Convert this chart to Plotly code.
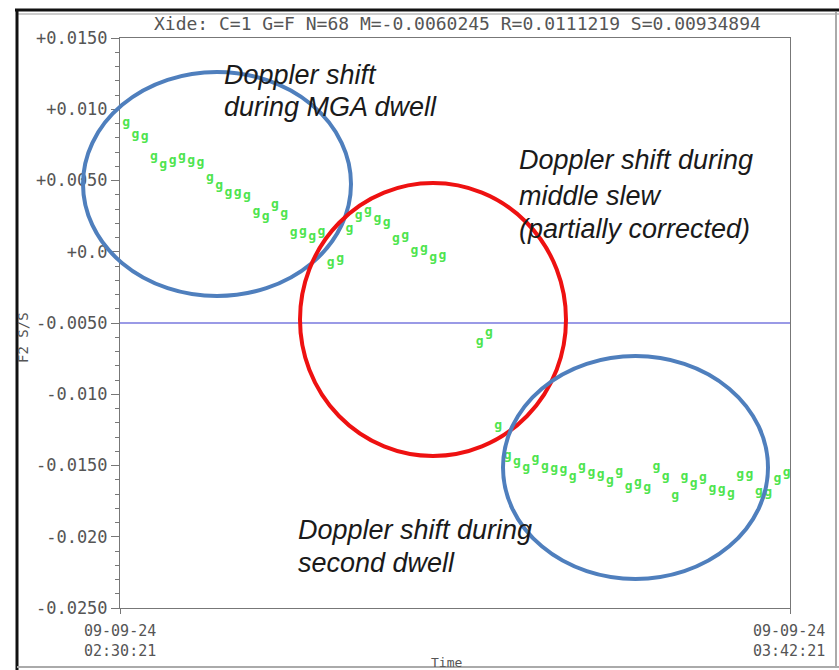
import plotly.graph_objects as go

# ---------------- data ----------------
DATE = "2009-09-24"
TIMES = [
    "02:31", "02:32", "02:33", "02:34", "02:35", "02:36", "02:37", "02:38", "02:39", "02:40",
    "02:41", "02:42", "02:43", "02:44", "02:45", "02:46", "02:47", "02:48", "02:49", "02:50",
    "02:51", "02:52", "02:53", "02:54", "02:55", "02:56", "02:57", "02:58", "02:59", "03:00",
    "03:01", "03:02", "03:03", "03:04", "03:05",
    "03:09", "03:10", "03:11",
    "03:12", "03:13", "03:14", "03:15", "03:16", "03:17", "03:18", "03:19", "03:20", "03:21",
    "03:22", "03:23", "03:24", "03:25", "03:26", "03:27", "03:28", "03:29", "03:30", "03:31",
    "03:32", "03:33", "03:34", "03:35", "03:36", "03:37", "03:38", "03:39", "03:40", "03:41",
    "03:42",
]
F2_SS = [
    0.00904, 0.00819, 0.00805, 0.00665, 0.00609, 0.00637, 0.00665, 0.00637, 0.00623, 0.00518,
    0.00461, 0.00412, 0.00412, 0.00391, 0.00279, 0.00244, 0.00328, 0.00265, 0.00132, 0.00139,
    0.00104, 0.00139, -0.00079, -0.00051, 0.00160, 0.00250, 0.00286, 0.00230, 0.00202, 0.00089,
    0.00111, 0.00005, 0.00019, -0.00044, -0.00030,
    -0.00633, -0.00570, -0.01223,
    -0.01433, -0.01475, -0.01518, -0.01454, -0.01511, -0.01525, -0.01532, -0.01581, -0.01511, -0.01553,
    -0.01567, -0.01609, -0.01546, -0.01651, -0.01623, -0.01658, -0.01511, -0.01581, -0.01714, -0.01581,
    -0.01630, -0.01588, -0.01665, -0.01672, -0.01700, -0.01567, -0.01567, -0.01686, -0.01693, -0.01595,
    -0.01553,
]
REF_LEVEL = -0.005
X_START = "2009-09-24 02:30:21"
X_END = "2009-09-24 03:42:21"
XTICK_DATES = ["09-09-24", "09-09-24"]
XTICK_TIMES = ["02:30:21", "03:42:21"]
YTICK_VALS = [0.015, 0.010, 0.005, 0.0, -0.005, -0.010, -0.015, -0.020, -0.025]
YTICK_TEXT = ["+0.0150", "+0.010", "+0.0050", "+0.0", "-0.0050", "-0.010", "-0.0150", "-0.020", "-0.0250"]
TITLE = "Xide: C=1 G=F N=68 M=-0.0060245 R=0.0111219 S=0.00934894"
NOTES = [
    ("Doppler shift", 222, 75), ("during MGA dwell", 222, 107),
    ("Doppler shift during", 517, 160), ("middle slew", 517, 196), ("(partially corrected)", 517, 229),
    ("Doppler shift during", 296, 530), ("second dwell", 296, 563),
]

# ---------------- layout helpers ----------------
W, H = 839, 670
L, R, T, B = 120, 790, 38, 608


def px(x):
    return (x - L) / (R - L)


def py(y):
    return (B - y) / (B - T)


MONO = "DejaVu Sans Mono"
GRAY = "#555555"

xs = [f"{DATE} {t}:00" for t in TIMES]

fig = go.Figure()
fig.add_trace(go.Scatter(
    x=xs, y=F2_SS, mode="text", text=["g"] * len(xs),
    textfont=dict(family=MONO, size=13, color="#4ee44e", weight="bold"),
    textposition="middle center", hoverinfo="x+y", showlegend=False,
))

shapes = []
# reference line
shapes.append(dict(type="line", xref="paper", yref="y", x0=0, x1=1, y0=REF_LEVEL, y1=REF_LEVEL,
                   line=dict(color="#9a9ae6", width=2), layer="below"))
# ellipses
for (x0, x1, y0, y1, col) in [
    (83, 351, 296, 72, "#4f7fbd"),
    (300, 566, 456, 183, "#ee1111"),
    (503, 768, 579, 356, "#4f7fbd"),
]:
    shapes.append(dict(type="circle", xref="paper", yref="paper",
                       x0=px(x0), x1=px(x1), y0=py(y0), y1=py(y1),
                       line=dict(color=col, width=4)))
# outer frame
shapes += [
    dict(type="line", xref="paper", yref="paper", x0=px(15), x1=px(839), y0=py(10), y1=py(10),
         line=dict(color="#111111", width=3)),
    dict(type="line", xref="paper", yref="paper", x0=px(17), x1=px(839), y0=py(14), y1=py(14),
         line=dict(color="#999999", width=1)),
    dict(type="line", xref="paper", yref="paper", x0=px(17), x1=px(17), y0=py(9), y1=py(670),
         line=dict(color="#111111", width=3)),
    dict(type="line", xref="paper", yref="paper", x0=px(836), x1=px(836), y0=py(12), y1=py(668),
         line=dict(color="#aaaaaa", width=2)),
    dict(type="line", xref="paper", yref="paper", x0=px(17), x1=px(839), y0=py(667), y1=py(667),
         line=dict(color="#aaaaaa", width=2)),
]

annotations = []
annotations.append(dict(text=TITLE, xref="paper", yref="paper", x=px(457), y=py(24),
                        xanchor="center", yanchor="middle", showarrow=False,
                        font=dict(family=MONO, size=18, color=GRAY)))
for i, (d, t) in enumerate(zip(XTICK_DATES, XTICK_TIMES)):
    xc = [120, 789][i]
    annotations.append(dict(text=f"{d}<br>{t}", xref="paper", yref="paper", x=px(xc), y=py(641),
                            xanchor="center", yanchor="middle", showarrow=False,
                            font=dict(family=MONO, size=15, color=GRAY)))
annotations.append(dict(text="Time", xref="paper", yref="paper", x=px(446), y=py(662),
                        xanchor="center", yanchor="middle", showarrow=False,
                        font=dict(family=MONO, size=13, color=GRAY)))
annotations.append(dict(text="F2 S/S", xref="paper", yref="paper", x=px(23), y=py(338),
                        xanchor="center", yanchor="middle", showarrow=False, textangle=-90,
                        font=dict(family=MONO, size=14, color=GRAY)))
for txt, x, y in NOTES:
    annotations.append(dict(text=f"<i>{txt}</i>", xref="paper", yref="paper", x=px(x), y=py(y),
                            xanchor="left", yanchor="middle", showarrow=False,
                            font=dict(family="Liberation Sans", size=27, color="#1a1a1a")))

fig.update_layout(
    width=W, height=H,
    margin=dict(l=L, r=W - R, t=T, b=H - B, pad=0),
    paper_bgcolor="white", plot_bgcolor="white",
    shapes=shapes, annotations=annotations,
    xaxis=dict(range=[X_START, X_END], tickvals=[X_START, X_END], showticklabels=False,
               showgrid=False, zeroline=False, showline=True, mirror=True, linecolor="#777777",
               linewidth=1, ticks="outside", ticklen=5, tickcolor="#777777"),
    yaxis=dict(range=[-0.025, 0.015], tickvals=YTICK_VALS, ticktext=YTICK_TEXT,
               showgrid=False, zeroline=False, showline=True, mirror=True, linecolor="#777777",
               linewidth=1, ticks="outside", ticklen=8, tickcolor="#777777",
               tickfont=dict(family=MONO, size=17, color=GRAY),
               minor=dict(dtick=0.001, ticks="outside", ticklen=4, tickcolor="#777777", showgrid=False)),
)

fig.write_html("out.html")
